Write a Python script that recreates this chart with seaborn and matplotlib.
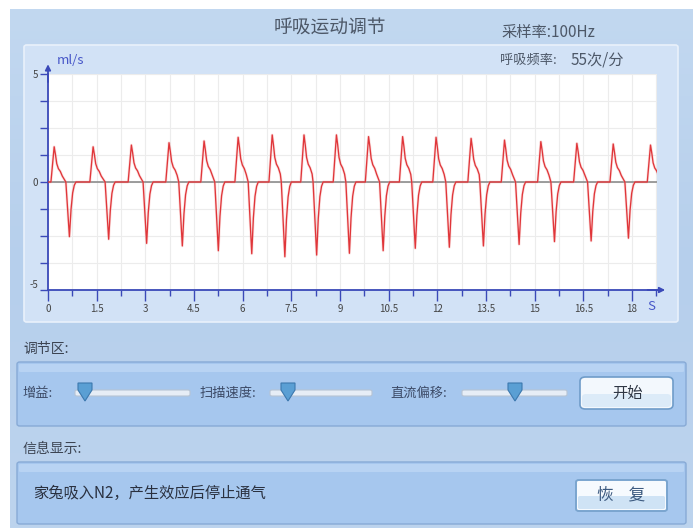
import numpy as np
import pandas as pd
import matplotlib
matplotlib.use("Agg")
import matplotlib.pyplot as plt
import seaborn as sns
from matplotlib.patches import FancyBboxPatch, Polygon
from matplotlib.ticker import MultipleLocator, FixedLocator

# ---- recorded respiration flow (ml/s) ----
peak_time = [0.19, 1.39, 2.57, 3.73, 4.81, 5.86, 6.91, 7.89, 8.89, 9.88,
             10.93, 11.96, 13.04, 14.07, 15.19, 16.30, 17.42, 18.57]
peak_flow = [1.63, 1.63, 1.71, 1.82, 1.90, 2.07, 2.18, 2.18, 2.18, 2.10,
             2.10, 2.07, 2.02, 1.94, 1.87, 1.79, 1.76, 1.71]
trough_time = [0.66, 1.87, 3.04, 4.14, 5.25, 6.28, 7.30, 8.28, 9.29, 10.33,
               11.32, 12.37, 13.42, 14.52, 15.61, 16.74, 17.89]
trough_flow = [-2.53, -2.65, -2.84, -2.96, -3.18, -3.32, -3.46, -3.38, -3.30,
               -3.18, -3.07, -3.02, -2.96, -2.89, -2.76, -2.73, -2.60]

# per-breath waveform outline: (seconds offset, fraction of the extreme value)
after_peak = [(0.04, 0.78), (0.08, 0.52), (0.13, 0.38), (0.19, 0.30), (0.25, 0.17)]
after_trough = [(0.05, 0.50), (0.10, 0.20), (0.15, 0.06), (0.20, 0.0)]
rise_time = 0.10
cross_lead = 0.11

x_major = [0, 1.5, 3, 4.5, 6, 7.5, 9, 10.5, 12, 13.5, 15, 16.5, 18]
x_labels = ["0", "1.5", "3", "4.5", "6", "7.5", "9", "10.5", "12", "13.5",
            "15", "16.5", "18"]
y_ticks = [-5, -3.75, -2.5, -1.25, 0, 1.25, 2.5, 3.75, 5]
y_labels = ["-5", "", "", "", "0", "", "", "", "5"]

title = "呼吸运动调节"
rate_text = "采样率:100Hz"
freq_label = "呼吸频率:"
freq_value = "55次/分"
info_text = "家兔吸入N2，产生效应后停止通气"

# ---- assemble the trace vertices ----
ts, vs = [0.0], [0.0]
for i, (tp, p) in enumerate(zip(peak_time, peak_flow)):
    ts += [tp - rise_time, tp]
    vs += [0.0, p]
    for dt, f in after_peak:
        ts.append(tp + dt); vs.append(p * f)
    if i < len(trough_time):
        tt, tv = trough_time[i], trough_flow[i]
        ts += [tt - cross_lead, tt]
        vs += [0.0, tv]
        for dt, f in after_trough:
            ts.append(tt + dt); vs.append(tv * f)
df = pd.DataFrame({"t": ts, "flow": vs})

# ---- figure / theme ----
sns.set_theme(style="white")
plt.rcParams["font.family"] = ["Noto Sans CJK SC", "DejaVu Sans"]
plt.rcParams["axes.unicode_minus"] = False

W, H = 693, 528
fig = plt.figure(figsize=(W / 100, H / 100), dpi=100)
fig.patch.set_facecolor("white")


def box(x0, y0, x1, y1, fc, ec="none", lw=0.0, r=0.004, z=0, **kw):
    p = FancyBboxPatch((x0 / W, 1 - y1 / H), (x1 - x0) / W, (y1 - y0) / H,
                       boxstyle=f"round,pad=0,rounding_size={r}",
                       transform=fig.transFigure, fc=fc, ec=ec, lw=lw,
                       zorder=z, **kw)
    fig.add_artist(p)
    return p


def text(x, y, s, size, color="#3c4452", ha="left", **kw):
    fig.text(x / W, 1 - y / H, s, fontsize=size, color=color, ha=ha,
             va="center", **kw)


# outer window background with soft vertical gradient
bg = fig.add_axes([10 / W, 0, 1 - 10 / W, 1 - 9 / H], zorder=-10)
grad = np.linspace(0, 1, 256).reshape(-1, 1)
cmap = matplotlib.colors.LinearSegmentedColormap.from_list(
    "bgc", ["#c2d8f0", "#b6cfec", "#bdd4ee"])
bg.imshow(grad, aspect="auto", cmap=cmap, extent=[0, 1, 0, 1])
bg.set_axis_off()

# graph panel
box(24, 45, 678, 322, "#d2e2f6", ec="#e9f1fb", lw=1.2, z=1)

# header texts
text(330, 27, title, 13.5, color="#4d5868", ha="center")
text(501, 33, rate_text, 11, color="#4d5868")
text(500, 60, freq_label, 9.5, color="#4d5868")
text(571, 60, freq_value, 11, color="#4d5868")

# control section
text(23, 349, "调节区:", 10, color="#3c4452")
box(17, 362, 686, 426, "#a6c7ee", ec="#87aad6", lw=1.0, z=1)
box(19, 364, 684, 372, "#b8d3f3", z=1.5, r=0.002)

sliders = [(22, "增益:", 75, 190, 85),
           (200, "扫描速度:", 270, 372, 288),
           (390, "直流偏移:", 462, 567, 515)]
for lx, lab, t0, t1, knob in sliders:
    text(lx, 393, lab, 9.5, color="#3c4a66")
    box(t0, 390, t1, 396, "#e6edf6", ec="#b7c4d4", lw=0.8, r=0.003, z=2)
    thumb = Polygon([((knob - 7) / W, 1 - 383 / H), ((knob + 7) / W, 1 - 383 / H),
                     ((knob + 7) / W, 1 - 390 / H), (knob / W, 1 - 401 / H),
                     ((knob - 7) / W, 1 - 390 / H)], closed=True,
                    transform=fig.transFigure, fc="#5a9fd4", ec="#3c78ae",
                    lw=0.8, zorder=3)
    fig.add_artist(thumb)

box(580, 377, 673, 409, "#f3f8fd", ec="#6f9cc9", lw=1.2, r=0.008, z=2)
box(582, 394, 671, 407, "#dcebf8", z=2.5, r=0.006)
text(627, 393, "开始", 11, color="#2f3745", ha="center", zorder=4)

# info section
text(23, 449, "信息显示:", 10, color="#3c4452")
box(17, 462, 686, 524, "#a6c7ee", ec="#87aad6", lw=1.0, z=1)
box(19, 464, 684, 472, "#b8d3f3", z=1.5, r=0.002)
text(33, 493, info_text, 11, color="#2a3140")
box(576, 480, 667, 511, "#f6fafe", ec="#7aa5cf", lw=1.4, r=0.004, z=2)
box(578, 496, 665, 509, "#cfe3f5", z=2.5, r=0.003)
text(621, 495, "恢    复", 12, color="#3c5a80", ha="center", zorder=4)

# ---- flow chart ----
axis_blue = "#3a49b8"
ax = fig.add_axes([48 / W, 1 - 290 / H, (657 - 48) / W, (290 - 74) / H], zorder=5)
ax.set_facecolor("white")
ax.set_xlim(0, 18.77)
ax.set_ylim(-5, 5)

ax.xaxis.set_major_locator(FixedLocator(x_major))
ax.set_xticklabels(x_labels)
ax.xaxis.set_minor_locator(MultipleLocator(0.75))
ax.yaxis.set_major_locator(FixedLocator(y_ticks))
ax.set_yticklabels(y_labels)
ax.grid(True, which="both", color="#ececec", lw=0.8, zorder=0)
ax.set_axisbelow(True)

ax.tick_params(axis="x", which="major", direction="out", length=8, width=1.0,
               color=axis_blue, labelsize=7, labelcolor="#444444", pad=2)
ax.tick_params(axis="x", which="minor", direction="out", length=4, width=1.0,
               color=axis_blue)
ax.tick_params(axis="y", which="major", direction="out", length=6, width=1.0,
               color=axis_blue, labelsize=7, labelcolor="#444444", pad=1)
ax.tick_params(bottom=True, left=True, which="both")
for lbl in ax.get_yticklabels():
    if lbl.get_text() == "-5":
        lbl.set_va("bottom")

for side in ("top", "right"):
    ax.spines[side].set_visible(False)
for side in ("left", "bottom"):
    ax.spines[side].set_color(axis_blue)
    ax.spines[side].set_linewidth(1.3)

ax.axhline(0, color="#8d8d8d", lw=1.2, zorder=1)

sns.lineplot(data=df, x="t", y="flow", ax=ax, color="#f29a9a", lw=2.0,
             alpha=0.3, estimator=None, sort=False, legend=False, zorder=2)
sns.lineplot(data=df, x="t", y="flow", ax=ax, color="#e0363a", lw=0.95,
             estimator=None, sort=False, legend=False, zorder=3)
ax.set_xlabel("")
ax.set_ylabel("")

# axis arrows and units
ax.annotate("", xy=(0, 1.058), xytext=(0, 0.95), xycoords="axes fraction",
            arrowprops=dict(arrowstyle="-|>", color=axis_blue, lw=1.3,
                            mutation_scale=8), annotation_clip=False)
ax.annotate("", xy=(1.018, 0), xytext=(0.98, 0), xycoords="axes fraction",
            arrowprops=dict(arrowstyle="-|>", color=axis_blue, lw=1.3,
                            mutation_scale=8), annotation_clip=False)
text(57, 60, "ml/s", 9.5, color="#4656c8", zorder=6)
text(647, 307, "S", 9.5, color="#4656c8", zorder=6)

fig.savefig("out.png", dpi=100)
